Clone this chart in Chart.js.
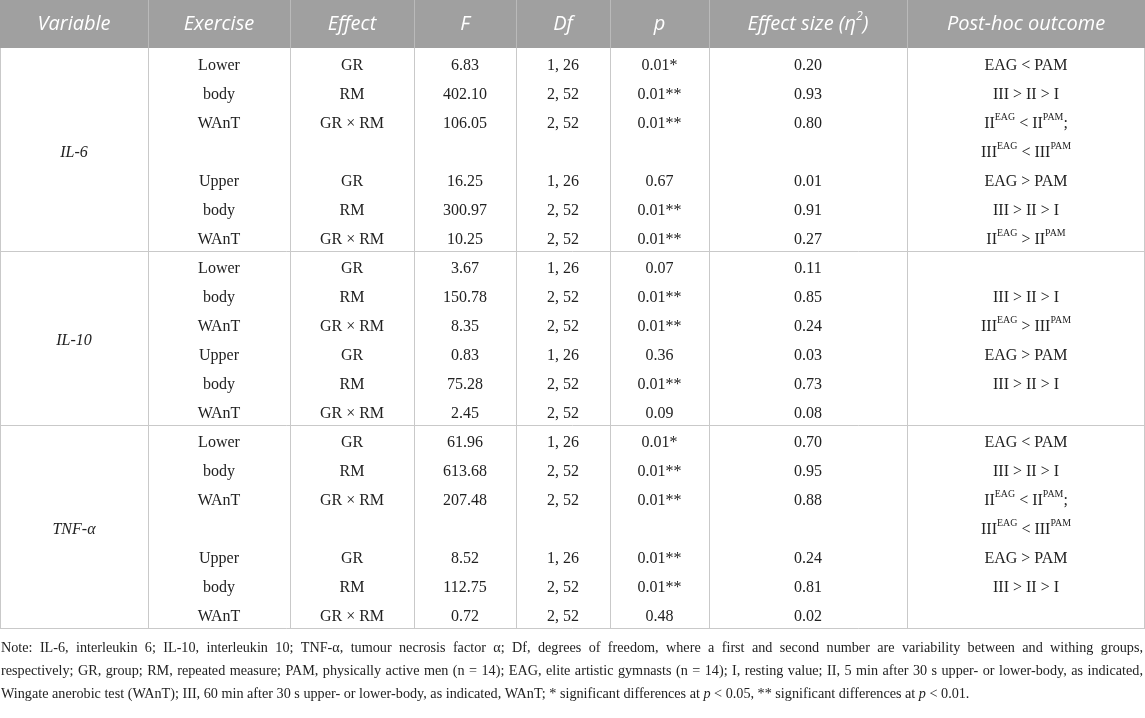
<!DOCTYPE html>
<html><head><meta charset="utf-8">
<script src="https://cdn.jsdelivr.net/npm/chart.js@4.4.1/dist/chart.umd.min.js"></script>
<style>html,body{margin:0;padding:0;background:#fff;overflow:hidden}#wrap{width:1145px;height:718px;position:relative}</style>
</head><body><div id="wrap"><canvas id="c" width="1145" height="718"></canvas></div>
<script>
// ---------- DATA ----------
const headers = ["Variable","Exercise","Effect","F","Df","p","Effect size (\u03B7^{2})","Post-hoc outcome"];
const variables = ["IL-6","IL-10","TNF-\u03B1"];
const blockRows = [7,6,7];
const exercise = ["Lower","body","WAnT","","Upper","body","WAnT",
                  "Lower","body","WAnT","Upper","body","WAnT",
                  "Lower","body","WAnT","","Upper","body","WAnT"];
const effect = ["GR","RM","GR \u00D7 RM","","GR","RM","GR \u00D7 RM",
                "GR","RM","GR \u00D7 RM","GR","RM","GR \u00D7 RM",
                "GR","RM","GR \u00D7 RM","","GR","RM","GR \u00D7 RM"];
const fValues = [6.83,402.10,106.05,null,16.25,300.97,10.25,
                 3.67,150.78,8.35,0.83,75.28,2.45,
                 61.96,613.68,207.48,null,8.52,112.75,0.72];
const dfValues = ["1, 26","2, 52","2, 52","","1, 26","2, 52","2, 52",
                  "1, 26","2, 52","2, 52","1, 26","2, 52","2, 52",
                  "1, 26","2, 52","2, 52","","1, 26","2, 52","2, 52"];
const pValues = [0.01,0.01,0.01,null,0.67,0.01,0.01,
                 0.07,0.01,0.01,0.36,0.01,0.09,
                 0.01,0.01,0.01,null,0.01,0.01,0.48];
const pStars = ["*","**","**","","","**","**",
                "","**","**","","**","",
                "*","**","**","","**","**",""];
const etaValues = [0.20,0.93,0.80,null,0.01,0.91,0.27,
                   0.11,0.85,0.24,0.03,0.73,0.08,
                   0.70,0.95,0.88,null,0.24,0.81,0.02];
const postHoc = ["EAG < PAM","III > II > I","II^{EAG} < II^{PAM};","III^{EAG} < III^{PAM}","EAG > PAM","III > II > I","II^{EAG} > II^{PAM}",
                 "","III > II > I","III^{EAG} > III^{PAM}","EAG > PAM","III > II > I","",
                 "EAG < PAM","III > II > I","II^{EAG} < II^{PAM};","III^{EAG} < III^{PAM}","EAG > PAM","III > II > I",""];
const noteLines = [
  "Note: IL-6, interleukin 6; IL-10, interleukin 10; TNF-\u03B1, tumour necrosis factor \u03B1; Df, degrees of freedom, where a first and second number are variability between and withing groups,",
  "respectively; GR, group; RM, repeated measure; PAM, physically active men (n = 14); EAG, elite artistic gymnasts (n = 14); I, resting value; II, 5 min after 30 s upper- or lower-body, as indicated,",
  "Wingate anerobic test (WAnT); III, 60 min after 30 s upper- or lower-body, as indicated, WAnT; * significant differences at ~{p} < 0.05, ** significant differences at ~{p} < 0.01."
];

// ---------- LAYOUT / STYLE ----------
const layout = { width: 1145, headerH: 48, noteH: 90, colEdges: [0,148,290,414,516,610,709,907,1145] };
const style = {
  headerBg: "#a0a0a0", headerFg: "#ffffff", headerFont: "'Open Sans', 'Noto Sans', sans-serif", headerSize: 20,
  bodyFont: "'Liberation Serif', 'Times New Roman', serif", bodySize: 16, bodyColor: "#222222",
  grid: "#c9c9c9", noteSize: 14.2
};
const colCenters = layout.colEdges.slice(0,-1).map((e,i)=>(e+layout.colEdges[i+1])/2);
const nRows = exercise.length;
const blockStart = blockRows.map((n,i)=>blockRows.slice(0,i).reduce((a,b)=>a+b,0));

const fmt = v => v==null ? "" : v.toFixed(2);
const colLabels = [
  exercise, effect, fValues.map(fmt), dfValues,
  pValues.map((v,i)=> v==null ? "" : fmt(v) + pStars[i]),
  etaValues.map(fmt), postHoc
];

// ---------- RICH TEXT ----------
function parseRich(str){
  const segs=[]; const re=/\^\{([^}]*)\}|~\{([^}]*)\}/g; let last=0, m;
  while((m=re.exec(str))){
    if(m.index>last) segs.push({t:str.slice(last,m.index)});
    if(m[1]!==undefined) segs.push({t:m[1],sup:true}); else segs.push({t:m[2],it:true});
    last=re.lastIndex;
  }
  if(last<str.length) segs.push({t:str.slice(last)});
  return segs;
}
function segFont(s, base){
  const size = s.sup ? base.size*0.62 : base.size;
  return `${(base.italic||s.it)?'italic ':''}${size}px ${base.family}`;
}
function drawRich(ctx, str, x, y, base){
  if(!str) return;
  const segs=parseRich(str);
  let total=0;
  segs.forEach(s=>{ctx.font=segFont(s,base); s.w=ctx.measureText(s.t).width; total+=s.w;});
  let cx = base.align==='left' ? x : x-total/2;
  ctx.fillStyle=base.color; ctx.textBaseline='middle'; ctx.textAlign='left';
  segs.forEach(s=>{ctx.font=segFont(s,base); ctx.fillText(s.t,cx, s.sup? y-base.size*0.36 : y); cx+=s.w;});
}
function drawJustified(ctx, str, x0, x1, y, base){
  const words=str.split(' ');
  ctx.font=`${base.size}px ${base.family}`;
  const ws=words.map(w=>ctx.measureText(w).width);
  const sum=ws.reduce((a,b)=>a+b,0);
  const gap=(x1-x0-sum)/(words.length-1);
  ctx.fillStyle=base.color; ctx.textBaseline='middle'; ctx.textAlign='left';
  let cx=x0;
  words.forEach((w,i)=>{ctx.fillText(w,cx,y); cx+=ws[i]+gap;});
}

// ---------- PLUGIN ----------
const tablePlugin = {
  id:'tablePlugin',
  beforeDraw(chart){
    const {ctx, chartArea:a, scales:{x,y}} = chart;
    ctx.save();
    ctx.fillStyle='#fff'; ctx.fillRect(0,0,chart.width,chart.height);
    // header
    ctx.fillStyle=style.headerBg; ctx.fillRect(x.getPixelForValue(0),0,x.getPixelForValue(layout.width)-x.getPixelForValue(0),a.top);
    ctx.strokeStyle='rgba(255,255,255,0.28)'; ctx.lineWidth=1;
    layout.colEdges.slice(1,-1).forEach(e=>{const px=Math.round(x.getPixelForValue(e))+0.5; ctx.beginPath(); ctx.moveTo(px,0); ctx.lineTo(px,a.top); ctx.stroke();});
    headers.forEach((h,i)=>drawRich(ctx,h,x.getPixelForValue(colCenters[i]),a.top/2,{size:style.headerSize,family:style.headerFont,italic:true,color:style.headerFg}));
    // grid
    ctx.strokeStyle=style.grid; ctx.lineWidth=1;
    const yb=y.getPixelForValue(nRows);
    layout.colEdges.forEach((e,i)=>{
      let px=Math.round(x.getPixelForValue(e))+0.5; if(i===layout.colEdges.length-1) px-=1;
      ctx.beginPath(); ctx.moveTo(px,a.top); ctx.lineTo(px,yb); ctx.stroke();
    });
    blockStart.slice(1).concat([nRows]).forEach(r=>{
      const py=Math.round(y.getPixelForValue(r))+0.5;
      ctx.beginPath(); ctx.moveTo(x.getPixelForValue(0),py); ctx.lineTo(x.getPixelForValue(layout.width),py); ctx.stroke();
    });
    ctx.restore();
  },
  afterDatasetsDraw(chart){
    const {ctx, chartArea:a} = chart;
    ctx.save();
    chart.data.datasets.forEach((ds,i)=>{
      const meta=chart.getDatasetMeta(i);
      meta.data.forEach((pt,j)=>drawRich(ctx, ds.cellLabels[j], pt.x, pt.y+3, {size:style.bodySize,family:style.bodyFont,italic:!!ds.italic,color:style.bodyColor}));
    });
    // note
    const nb={size:style.noteSize,family:style.bodyFont,color:style.bodyColor};
    drawJustified(ctx,noteLines[0],1,1143,a.bottom+20,nb);
    drawJustified(ctx,noteLines[1],1,1143,a.bottom+43,nb);
    drawRich(ctx,noteLines[2],1,a.bottom+66,Object.assign({align:'left'},nb));
    ctx.restore();
  }
};

// ---------- CHART ----------
const datasets = [{
  label:'Variable', italic:true, cellLabels: variables,
  data: variables.map((v,b)=>({x:colCenters[0], y:blockStart[b]+blockRows[b]/2}))
}].concat(colLabels.map((labels,c)=>({
  label: headers[c+1], cellLabels: labels,
  data: labels.map((_,r)=>({x:colCenters[c+1], y:r+0.5}))
})));
datasets.forEach(d=>{d.pointRadius=0; d.pointHoverRadius=0; d.showLine=false;});

new Chart(document.getElementById('c'), {
  type:'scatter',
  data:{datasets},
  options:{
    responsive:false, animation:false, devicePixelRatio:1,
    layout:{padding:{top:layout.headerH, bottom:layout.noteH, left:0, right:0}},
    plugins:{legend:{display:false}, tooltip:{enabled:false}},
    events:[],
    scales:{
      x:{type:'linear', min:0, max:layout.width, display:false},
      y:{type:'linear', min:0, max:nRows, reverse:true, display:false}
    }
  },
  plugins:[tablePlugin]
});
</script></body></html>
